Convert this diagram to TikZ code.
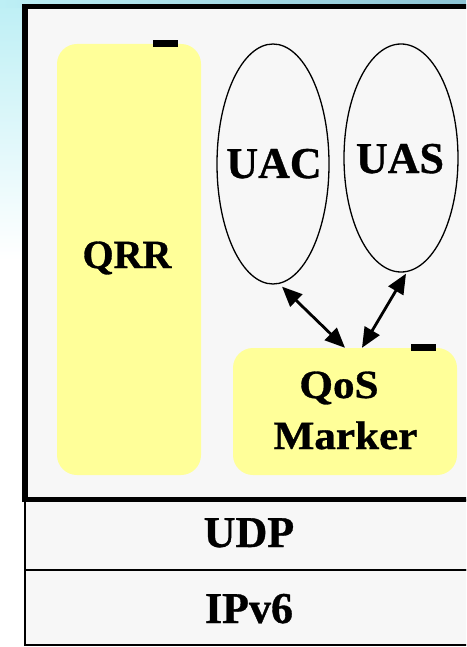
\documentclass[tikz,border=0pt]{standalone}
\usepackage{fontspec}
\setmainfont{Liberation Serif}[BoldFeatures={FakeBold=0.8}]
\usetikzlibrary{shapes.geometric,arrows.meta}
\definecolor{boxyellow}{HTML}{FFFF99}
\definecolor{panel}{HTML}{F7F7F7}
\definecolor{skyc}{HTML}{BDEFF5}
\definecolor{skyd}{HTML}{8CC4D4}
\begin{document}
\begin{tikzpicture}[x=1pt,y=-1pt,
  yelbox/.style={draw=none,fill=boxyellow,rounded corners=20pt,inner sep=0pt},
  oval/.style={ellipse,draw,line width=1.3pt,inner sep=0pt},
  big/.style={font=\fontsize{44}{50}\selectfont\bfseries,inner sep=0pt,anchor=base},
  mid/.style={font=\fontsize{40}{46}\selectfont\bfseries,inner sep=0pt,anchor=base},
  dbl/.style={{Triangle[length=20pt,width=17pt]}-{Triangle[length=20pt,width=17pt]},line width=2.8pt},
  layer/.style={draw,line width=1.3pt,fill=panel,inner sep=0pt}]
\useasboundingbox (0,0) rectangle (466,647);
\clip (0,0) rectangle (466,647);
\fill[white] (0,0) rectangle (466,647);
\shade[top color=skyc, bottom color=white] (0,0) rectangle (30,260);
\shade[left color=skyc, right color=skyd] (0,0) rectangle (466,8);
% lower layers
\node[layer, minimum width=455pt, minimum height=70pt] (udp) at (252.5,535) {};
\node[layer, minimum width=455pt, minimum height=75pt] (ipv6) at (252.5,607.5) {};
% main panel
\node[draw, line width=5.5pt, fill=panel, minimum width=460pt, minimum height=493pt, inner sep=0pt] (panel) at (255,253) {};
% QRR
\node[yelbox, minimum width=144pt, minimum height=431pt] (qrr) at (129,259.5) {};
\fill (153,40) rectangle (178,47);
% QoS marker
\node[yelbox, minimum width=224pt, minimum height=127pt] (qos) at (345,411.5) {};
\fill (411,344) rectangle (436,351);
% ellipses
\node[oval, minimum width=112pt, minimum height=240pt] (uac) at (273,164) {};
\node[oval, minimum width=114pt, minimum height=228pt] (uas) at (401,158) {};
% arrows
\draw[dbl] ([shift={(9,2)}]uac.south) -- (qos.north);
\draw[dbl] ([shift={(5,1)}]uas.south) -- ([xshift=17pt]qos.north);
% texts
\node[big] (uact) at (274,178) {UAC};
\node[big] (uast) at (400,173) {UAS};
\node[mid] (qrrt) at (127,268) {QRR};
\node[mid] (qost) at (339,398) {\scalebox{1.08}[1]{QoS}};
\node[mid] (markt) at (345.5,449) {\scalebox{1.08}[1]{Marker}};
\node[big] (udpt) at (249,547) {UDP};
\node[big] (ipt) at (249,623) {IPv6};
\end{tikzpicture}
\end{document}
